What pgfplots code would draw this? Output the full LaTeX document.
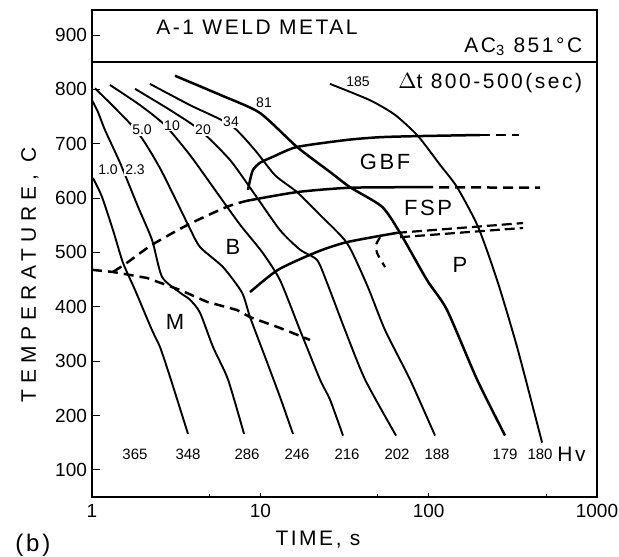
\documentclass[border=0pt]{standalone}
\usepackage{pgfplots}
\pgfplotsset{compat=1.18}
\usepackage{fontspec}
\setmainfont{Liberation Sans}
\newfontfamily\spaced[LetterSpace=12]{Liberation Sans}
\newfontfamily\wide[LetterSpace=28]{Liberation Sans}
\begin{document}
\begin{tikzpicture}[
  cc/.style={black, line width=0.95pt, mark=none, smooth, tension=0.4},
  pb/.style={black, line width=1.25pt, mark=none},
  dsh/.style={dash pattern=on 5pt off 3pt},
  lab/.style={fill=white, inner sep=0.6pt},
]
\path[use as bounding box] (-46pt,-29.5pt) rectangle (263.5pt,248.5pt);
\begin{axis}[
  at={(0,0)}, anchor=south west,
  scale only axis, width=252.5pt, height=243.5pt,
  xmode=log, xmin=1, xmax=1000, ymin=50, ymax=946,
  axis line style={line width=0.7pt},
  xtick={1,10,100,1000}, xticklabels={1,10,100,1000},
  minor xtick={5,50,500},
  ytick={100,200,...,900},
  tick align=inside, xtick pos=bottom, ytick pos=left,
  major tick length=4pt, minor tick length=1.5pt,
  xtick style={/pgfplots/major tick length=2pt},
  tick style={black, line width=0.5pt},
  ticklabel style={font=\fontsize{9.5}{10}\selectfont},
  yticklabel style={xshift=1pt},
  /pgf/number format/assume math mode=true,
  clip=false,
]
% AC3 line
\addplot[black, line width=0.7pt] coordinates {(1,850) (1000,850)};
% cooling curves
\addplot[cc] coordinates {(1.014,637)(1.147,602)(1.333,541)(1.528,481)(1.801,431)(2.273,357)(2.535,326)(2.908,271)(3.719,166)};
\addplot[cc] coordinates {(1.0,780)(1.086,758)(1.195,725)(1.467,665)(1.877,584)(2.273,523)(2.606,455)(3.333,426)(3.822,413)(4.382,389)(5.236,326)(6.43,266)(8.003,166)};
\addplot[cc] coordinates {(1.042,802)(1.826,725)(2.535,655)(3.719,551)(4.382,510)(6.004,473)(7.786,426)(8.686,381)(10.66,308)(13.09,234)(15.64,166)};
\addplot[cc] coordinates {(1.279,808)(1.929,771)(2.716,734)(3.822,679)(5.381,615)(7.576,551)(10.23,501)(13.09,449)(17.21,357)(22.63,266)(25.95,229)(30.99,163)};
\addplot[cc] coordinates {(1.801,801)(2.908,762)(4.382,725)(6.607,670)(9.302,606)(13.09,541)(17.21,505)(21.73,486)(24.91,444)(31.87,357)(41.9,266)(64.0,163)};
\addplot[cc] coordinates {(2.211,810)(3.822,771)(6.698,734)(9.302,688)(12.23,642)(16.52,611)(22.63,569)(32.75,517)(43.05,440)(55.08,357)(77.52,266)(109.1,163)};
\addplot[cc, line width=1.25pt] coordinates {(3.112,825)(5.761,790)(9.9,757)(16.52,694)(25.95,648)(34.12,620)(52.86,584)(67.61,536)(97.8,449)(128.6,394)(194,266)(284.4,163)};
\addplot[cc] coordinates {(25.95,810)(44.86,780)(63.15,753)(86.5,714)(116.9,661)(147.5,620)(196.6,547)(255,449)(335.2,326)(472,150)};
% phase boundaries
\addplot[pb, smooth, tension=0.4] coordinates {(8.453,615)(8.686,633)(9.051,652)(9.96,665)(11.9,676)(16.52,694)(32.75,707)(51.44,712)(86.5,714)(201.9,716)};
\addplot[pb, dsh] coordinates {(201.9,716)(342,716)};
\addplot[pb, dsh, smooth, tension=0.4] coordinates {(1.333,464)(1.614,481)(2.273,514)(3.719,551)(6.341,584)(8.337,595)};
\addplot[pb, smooth, tension=0.4] coordinates {(8.337,595)(16.52,611)(34.12,619)(92.6,620)};
\addplot[pb, dsh] coordinates {(92.6,620)(459,619)};
\addplot[pb, smooth, tension=0.4] coordinates {(8.686,427)(12.74,468)(21.73,501)(32.75,519)(64.9,536)};
\addplot[pb, line width=1.1pt, dash pattern=on 5pt off 2.5pt] coordinates {(64.9,536)(363.9,554)};
\addplot[pb, line width=1.1pt, dash pattern=on 5pt off 2.5pt] coordinates {(67.61,528)(363.9,545)};
\addplot[pb, line width=1.1pt, dash pattern=on 4pt off 3pt, smooth, tension=0.4] coordinates {(51.44,528)(48.7,514)(49.35,499)(55.08,473)};
\addplot[pb, dsh] coordinates {(1,468)(1.333,464)(2.122,453)(3.333,431)(4.824,409)(7.271,394)(8.686,381)(13.09,361)(19.74,339)};
% delta t labels
\begin{scope}[font=\fontsize{7}{8}\selectfont]
\node[lab] at (axis cs:1.245,652) {1.0};
\node[lab] at (axis cs:1.801,652) {2.3};
\node[lab] at (axis cs:1.982,725) {5.0};
\node[lab] at (axis cs:2.988,734) {10};
\node[lab] at (axis cs:4.566,725) {20};
\node[lab] at (axis cs:6.698,740) {34};
\node at (axis cs:10.52,775) {81};
\node at (axis cs:38.07,815) {185};
\end{scope}
% hardness
\begin{scope}[font=\fontsize{7.5}{8}\selectfont]
\node at (axis cs:1.801,128) {365};
\node at (axis cs:3.719,128) {348};
\node at (axis cs:8.337,128) {286};
\node at (axis cs:16.52,128) {246};
\node at (axis cs:32.75,128) {216};
\node at (axis cs:64.9,128) {202};
\node at (axis cs:112.2,128) {188};
\node at (axis cs:284.4,128) {179};
\node at (axis cs:459,128) {180};
\end{scope}
\node[anchor=west, font=\spaced\fontsize{10.5}{11}\selectfont, inner sep=0pt] at (axis cs:579,128) {Hv};
% region labels
\begin{scope}[font=\spaced\fontsize{11}{12}\selectfont]
\node at (axis cs:55.08,666) {GBF};
\node at (axis cs:99.2,582) {FSP};
\node at (axis cs:153.7,477) {P};
\node at (axis cs:6.88,510) {B};
\node at (axis cs:3.112,372) {M};
\end{scope}
% header texts
\node[font=\spaced\fontsize{10.5}{11}\selectfont] at (axis cs:9.56,914) {A-1 WELD METAL};
\node[anchor=east, font=\spaced\fontsize{10.5}{11}\selectfont] at (axis cs:900,878) {AC\textsubscript{3} 851\textdegree C};
\node[anchor=east, font=\spaced\fontsize{10.5}{11}\selectfont] at (axis cs:900,812) {$\Delta$t 800-500(sec)};
% axis labels
\node[rotate=90, font=\wide\fontsize{10.5}{11}\selectfont] at (rel axis cs:-0.123,0.456) {TEMPERATURE, C};
\node[font=\spaced\fontsize{10.5}{11}\selectfont] at (rel axis cs:0.4475,-0.088) {TIME, s};
\node[font=\spaced\fontsize{12}{13}\selectfont] at (rel axis cs:-0.117,-0.099) {(b)};
\end{axis}
\end{tikzpicture}
\end{document}
